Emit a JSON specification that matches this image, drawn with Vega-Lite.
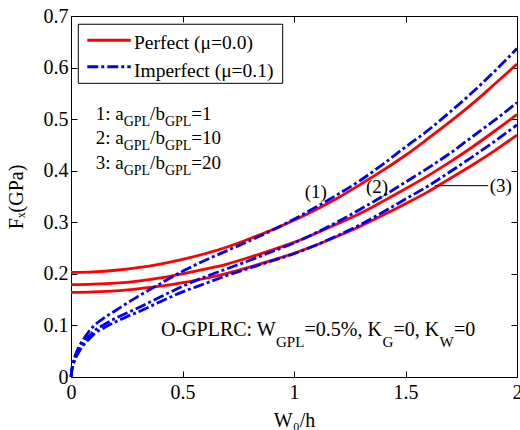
{
  "$schema": "https://vega.github.io/schema/vega-lite/v6.json",
  "width": 446,
  "height": 361,
  "autosize": {"type": "none"},
  "padding": {"left": 71, "top": 16, "right": 3, "bottom": 53},
  "config": {
    "font": "Liberation Serif",
    "view": {"stroke": "black", "strokeWidth": 1},
    "axis": {
      "labelFont": "Liberation Serif", "labelFontSize": 20, "labelColor": "black", "labelFlush": false,
      "titleFont": "Liberation Serif", "titleFontSize": 20, "titleFontWeight": "normal", "titleColor": "black",
      "tickColor": "black", "tickWidth": 1, "domain": false, "grid": false
    },
    "text": {"font": "Liberation Serif", "color": "black"}
  },
  "datasets": {
    "curves": [
      {"x":0,"y":0.203,"c":1,"k":"p"},{"x":0.1,"y":0.204,"c":1,"k":"p"},{"x":0.2,"y":0.207,"c":1,"k":"p"},{"x":0.3,"y":0.212,"c":1,"k":"p"},{"x":0.4,"y":0.219,"c":1,"k":"p"},{"x":0.5,"y":0.228,"c":1,"k":"p"},{"x":0.6,"y":0.239,"c":1,"k":"p"},{"x":0.7,"y":0.252,"c":1,"k":"p"},{"x":0.8,"y":0.268,"c":1,"k":"p"},{"x":0.9,"y":0.285,"c":1,"k":"p"},{"x":1.0,"y":0.304,"c":1,"k":"p"},{"x":1.1,"y":0.325,"c":1,"k":"p"},{"x":1.2,"y":0.348,"c":1,"k":"p"},{"x":1.3,"y":0.374,"c":1,"k":"p"},{"x":1.4,"y":0.401,"c":1,"k":"p"},{"x":1.5,"y":0.43,"c":1,"k":"p"},{"x":1.6,"y":0.462,"c":1,"k":"p"},{"x":1.7,"y":0.495,"c":1,"k":"p"},{"x":1.8,"y":0.53,"c":1,"k":"p"},{"x":1.9,"y":0.568,"c":1,"k":"p"},{"x":2.0,"y":0.607,"c":1,"k":"p"},
      {"x":0,"y":0.179,"c":2,"k":"p"},{"x":0.1,"y":0.18,"c":2,"k":"p"},{"x":0.2,"y":0.182,"c":2,"k":"p"},{"x":0.3,"y":0.186,"c":2,"k":"p"},{"x":0.4,"y":0.192,"c":2,"k":"p"},{"x":0.5,"y":0.2,"c":2,"k":"p"},{"x":0.6,"y":0.209,"c":2,"k":"p"},{"x":0.7,"y":0.219,"c":2,"k":"p"},{"x":0.8,"y":0.232,"c":2,"k":"p"},{"x":0.9,"y":0.246,"c":2,"k":"p"},{"x":1.0,"y":0.261,"c":2,"k":"p"},{"x":1.1,"y":0.279,"c":2,"k":"p"},{"x":1.2,"y":0.298,"c":2,"k":"p"},{"x":1.3,"y":0.318,"c":2,"k":"p"},{"x":1.4,"y":0.341,"c":2,"k":"p"},{"x":1.5,"y":0.365,"c":2,"k":"p"},{"x":1.6,"y":0.39,"c":2,"k":"p"},{"x":1.7,"y":0.417,"c":2,"k":"p"},{"x":1.8,"y":0.446,"c":2,"k":"p"},{"x":1.9,"y":0.477,"c":2,"k":"p"},{"x":2.0,"y":0.509,"c":2,"k":"p"},
      {"x":0,"y":0.164,"c":3,"k":"p"},{"x":0.1,"y":0.165,"c":3,"k":"p"},{"x":0.2,"y":0.167,"c":3,"k":"p"},{"x":0.3,"y":0.171,"c":3,"k":"p"},{"x":0.4,"y":0.176,"c":3,"k":"p"},{"x":0.5,"y":0.183,"c":3,"k":"p"},{"x":0.6,"y":0.191,"c":3,"k":"p"},{"x":0.7,"y":0.201,"c":3,"k":"p"},{"x":0.8,"y":0.213,"c":3,"k":"p"},{"x":0.9,"y":0.226,"c":3,"k":"p"},{"x":1.0,"y":0.24,"c":3,"k":"p"},{"x":1.1,"y":0.256,"c":3,"k":"p"},{"x":1.2,"y":0.274,"c":3,"k":"p"},{"x":1.3,"y":0.293,"c":3,"k":"p"},{"x":1.4,"y":0.314,"c":3,"k":"p"},{"x":1.5,"y":0.336,"c":3,"k":"p"},{"x":1.6,"y":0.359,"c":3,"k":"p"},{"x":1.7,"y":0.385,"c":3,"k":"p"},{"x":1.8,"y":0.411,"c":3,"k":"p"},{"x":1.9,"y":0.439,"c":3,"k":"p"},{"x":2.0,"y":0.469,"c":3,"k":"p"},
      {"x":0,"y":0,"c":1,"k":"i"},{"x":0.005,"y":0.019,"c":1,"k":"i"},{"x":0.01,"y":0.029,"c":1,"k":"i"},{"x":0.02,"y":0.043,"c":1,"k":"i"},{"x":0.04,"y":0.062,"c":1,"k":"i"},{"x":0.06,"y":0.076,"c":1,"k":"i"},{"x":0.08,"y":0.088,"c":1,"k":"i"},{"x":0.1,"y":0.098,"c":1,"k":"i"},{"x":0.15,"y":0.115,"c":1,"k":"i"},{"x":0.2,"y":0.129,"c":1,"k":"i"},{"x":0.25,"y":0.143,"c":1,"k":"i"},{"x":0.3,"y":0.156,"c":1,"k":"i"},{"x":0.4,"y":0.181,"c":1,"k":"i"},{"x":0.5,"y":0.205,"c":1,"k":"i"},{"x":0.6,"y":0.226,"c":1,"k":"i"},{"x":0.7,"y":0.245,"c":1,"k":"i"},{"x":0.8,"y":0.264,"c":1,"k":"i"},{"x":0.9,"y":0.284,"c":1,"k":"i"},{"x":1.0,"y":0.306,"c":1,"k":"i"},{"x":1.1,"y":0.33,"c":1,"k":"i"},{"x":1.2,"y":0.355,"c":1,"k":"i"},{"x":1.3,"y":0.382,"c":1,"k":"i"},{"x":1.4,"y":0.413,"c":1,"k":"i"},{"x":1.5,"y":0.446,"c":1,"k":"i"},{"x":1.6,"y":0.478,"c":1,"k":"i"},{"x":1.7,"y":0.514,"c":1,"k":"i"},{"x":1.8,"y":0.552,"c":1,"k":"i"},{"x":1.9,"y":0.593,"c":1,"k":"i"},{"x":2.0,"y":0.637,"c":1,"k":"i"},
      {"x":0,"y":0,"c":2,"k":"i"},{"x":0.005,"y":0.017,"c":2,"k":"i"},{"x":0.01,"y":0.026,"c":2,"k":"i"},{"x":0.02,"y":0.039,"c":2,"k":"i"},{"x":0.04,"y":0.056,"c":2,"k":"i"},{"x":0.06,"y":0.069,"c":2,"k":"i"},{"x":0.08,"y":0.079,"c":2,"k":"i"},{"x":0.1,"y":0.088,"c":2,"k":"i"},{"x":0.15,"y":0.102,"c":2,"k":"i"},{"x":0.2,"y":0.114,"c":2,"k":"i"},{"x":0.25,"y":0.124,"c":2,"k":"i"},{"x":0.3,"y":0.134,"c":2,"k":"i"},{"x":0.4,"y":0.155,"c":2,"k":"i"},{"x":0.5,"y":0.176,"c":2,"k":"i"},{"x":0.6,"y":0.194,"c":2,"k":"i"},{"x":0.7,"y":0.21,"c":2,"k":"i"},{"x":0.8,"y":0.226,"c":2,"k":"i"},{"x":0.9,"y":0.243,"c":2,"k":"i"},{"x":1.0,"y":0.26,"c":2,"k":"i"},{"x":1.1,"y":0.28,"c":2,"k":"i"},{"x":1.2,"y":0.302,"c":2,"k":"i"},{"x":1.3,"y":0.326,"c":2,"k":"i"},{"x":1.4,"y":0.351,"c":2,"k":"i"},{"x":1.5,"y":0.378,"c":2,"k":"i"},{"x":1.6,"y":0.405,"c":2,"k":"i"},{"x":1.7,"y":0.434,"c":2,"k":"i"},{"x":1.8,"y":0.466,"c":2,"k":"i"},{"x":1.9,"y":0.498,"c":2,"k":"i"},{"x":2.0,"y":0.532,"c":2,"k":"i"},
      {"x":0,"y":0,"c":3,"k":"i"},{"x":0.005,"y":0.016,"c":3,"k":"i"},{"x":0.01,"y":0.024,"c":3,"k":"i"},{"x":0.02,"y":0.036,"c":3,"k":"i"},{"x":0.04,"y":0.052,"c":3,"k":"i"},{"x":0.06,"y":0.064,"c":3,"k":"i"},{"x":0.08,"y":0.073,"c":3,"k":"i"},{"x":0.1,"y":0.082,"c":3,"k":"i"},{"x":0.15,"y":0.096,"c":3,"k":"i"},{"x":0.2,"y":0.107,"c":3,"k":"i"},{"x":0.25,"y":0.117,"c":3,"k":"i"},{"x":0.3,"y":0.126,"c":3,"k":"i"},{"x":0.4,"y":0.146,"c":3,"k":"i"},{"x":0.5,"y":0.165,"c":3,"k":"i"},{"x":0.6,"y":0.181,"c":3,"k":"i"},{"x":0.7,"y":0.197,"c":3,"k":"i"},{"x":0.8,"y":0.211,"c":3,"k":"i"},{"x":0.9,"y":0.225,"c":3,"k":"i"},{"x":1.0,"y":0.239,"c":3,"k":"i"},{"x":1.1,"y":0.256,"c":3,"k":"i"},{"x":1.2,"y":0.275,"c":3,"k":"i"},{"x":1.3,"y":0.296,"c":3,"k":"i"},{"x":1.4,"y":0.32,"c":3,"k":"i"},{"x":1.5,"y":0.345,"c":3,"k":"i"},{"x":1.6,"y":0.37,"c":3,"k":"i"},{"x":1.7,"y":0.398,"c":3,"k":"i"},{"x":1.8,"y":0.427,"c":3,"k":"i"},{"x":1.9,"y":0.457,"c":3,"k":"i"},{"x":2.0,"y":0.489,"c":3,"k":"i"}
    ],
    "box": [{"x": 0.0327, "x2": 0.9493, "y": 0.5695, "y2": 0.684}],
    "legendLines": [
      {"x": 0.073, "x2": 0.268, "y": 0.653, "k": "p"},
      {"x": 0.073, "x2": 0.268, "y": 0.6017, "k": "i"}
    ],
    "legendText": [
      {"x": 0.2825, "y": 0.636, "t": "Perfect (μ=0.0)"},
      {"x": 0.2825, "y": 0.5812, "t": "Imperfect (μ=0.1)"}
    ],
    "ratioMain": [
      {"x": 0.1108, "y": 0.4983, "t": "1: a"}, {"x": 0.3548, "y": 0.4983, "t": "/b"}, {"x": 0.5397, "y": 0.4983, "t": "=1"},
      {"x": 0.1108, "y": 0.4512, "t": "2: a"}, {"x": 0.3548, "y": 0.4512, "t": "/b"}, {"x": 0.5397, "y": 0.4512, "t": "=10"},
      {"x": 0.1108, "y": 0.4033, "t": "3: a"}, {"x": 0.3548, "y": 0.4033, "t": "/b"}, {"x": 0.5397, "y": 0.4033, "t": "=20"}
    ],
    "ratioSub": [
      {"x": 0.2362, "y": 0.4871, "t": "GPL"}, {"x": 0.4211, "y": 0.4871, "t": "GPL"},
      {"x": 0.2362, "y": 0.4398, "t": "GPL"}, {"x": 0.4211, "y": 0.4398, "t": "GPL"},
      {"x": 0.2362, "y": 0.3917, "t": "GPL"}, {"x": 0.4211, "y": 0.3917, "t": "GPL"}
    ],
    "noteMain": [
      {"x": 0.4036, "y": 0.0801, "t": "O-GPLRC: W"},
      {"x": 1.0471, "y": 0.0801, "t": "=0.5%, K"},
      {"x": 1.4462, "y": 0.0801, "t": "=0, K"},
      {"x": 1.7175, "y": 0.0801, "t": "=0"}
    ],
    "noteSub": [
      {"x": 0.9193, "y": 0.0588, "t": "GPL"},
      {"x": 1.3969, "y": 0.0588, "t": "G"},
      {"x": 1.6525, "y": 0.0588, "t": "W"}
    ],
    "curveLabels": [
      {"x": 1.098, "y": 0.3465, "t": "(1)"},
      {"x": 1.372, "y": 0.357, "t": "(2)"},
      {"x": 1.927, "y": 0.359, "t": "(3)"}
    ],
    "pointer": [{"x": 1.632, "x2": 1.871, "y": 0.371}]
  },
  "layer": [
    {
      "data": {"name": "curves"},
      "transform": [{"filter": "datum.k === 'p'"}],
      "mark": {"type": "line", "color": "#ff0000", "strokeWidth": 2.8, "interpolate": "monotone"},
      "encoding": {
        "x": {"field": "x", "type": "quantitative", "scale": {"domain": [0, 2], "nice": false},
          "axis": {"orient": "bottom", "values": [0, 0.5, 1, 1.5, 2], "format": "~g", "tickSize": -6, "labelPadding": 11,
            "title": "W₀/h", "titleX": 223, "titleY": 49, "titleBaseline": "alphabetic"}},
        "y": {"field": "y", "type": "quantitative", "scale": {"domain": [0, 0.7], "nice": false},
          "axis": {"orient": "left", "values": [0, 0.1, 0.2, 0.3, 0.4, 0.5, 0.6, 0.7], "format": "~g", "tickSize": -6, "labelPadding": 9,
            "title": "Fₓ(GPa)", "titleX": -49, "titleY": 180.5, "titleAngle": -90, "titleBaseline": "alphabetic"}},
        "detail": {"field": "c"}
      }
    },
    {
      "data": {"name": "curves"},
      "transform": [{"filter": "datum.k === 'i'"}],
      "mark": {"type": "line", "color": "#0000ff", "strokeWidth": 2.8, "strokeDash": [11, 3, 3, 3], "interpolate": "monotone"},
      "encoding": {
        "x": {"field": "x", "type": "quantitative", "scale": {"domain": [0, 2], "nice": false}, "axis": null},
        "y": {"field": "y", "type": "quantitative", "scale": {"domain": [0, 0.7], "nice": false}, "axis": null},
        "detail": {"field": "c"}
      }
    },
    {
      "data": {"name": "box"},
      "mark": {"type": "rect", "fill": "white", "stroke": "black", "strokeWidth": 1},
      "encoding": {
        "x": {"field": "x", "type": "quantitative", "scale": {"domain": [0, 2], "nice": false},
          "axis": {"orient": "top", "values": [0, 0.5, 1, 1.5, 2], "labels": false, "tickSize": -6, "title": null}},
        "x2": {"field": "x2"},
        "y": {"field": "y", "type": "quantitative", "scale": {"domain": [0, 0.7], "nice": false},
          "axis": {"orient": "right", "values": [0, 0.1, 0.2, 0.3, 0.4, 0.5, 0.6, 0.7], "labels": false, "tickSize": -6, "title": null}},
        "y2": {"field": "y2"}
      }
    },
    {
      "data": {"name": "legendLines"},
      "transform": [{"filter": "datum.k === 'p'"}],
      "mark": {"type": "rule", "color": "#ff0000", "strokeWidth": 3},
      "encoding": {
        "x": {"field": "x", "type": "quantitative", "scale": {"domain": [0, 2], "nice": false}, "axis": null},
        "x2": {"field": "x2"},
        "y": {"field": "y", "type": "quantitative", "scale": {"domain": [0, 0.7], "nice": false}, "axis": null}
      }
    },
    {
      "data": {"name": "legendLines"},
      "transform": [{"filter": "datum.k === 'i'"}],
      "mark": {"type": "rule", "color": "#0000ff", "strokeWidth": 3, "strokeDash": [11, 3, 3, 3]},
      "encoding": {
        "x": {"field": "x", "type": "quantitative", "scale": {"domain": [0, 2], "nice": false}, "axis": null},
        "x2": {"field": "x2"},
        "y": {"field": "y", "type": "quantitative", "scale": {"domain": [0, 0.7], "nice": false}, "axis": null}
      }
    },
    {
      "data": {"name": "legendText"},
      "mark": {"type": "text", "align": "left", "baseline": "alphabetic", "fontSize": 19.5},
      "encoding": {
        "x": {"field": "x", "type": "quantitative", "scale": {"domain": [0, 2], "nice": false}, "axis": null},
        "y": {"field": "y", "type": "quantitative", "scale": {"domain": [0, 0.7], "nice": false}, "axis": null},
        "text": {"field": "t"}
      }
    },
    {
      "data": {"name": "ratioMain"},
      "mark": {"type": "text", "align": "left", "baseline": "alphabetic", "fontSize": 19},
      "encoding": {
        "x": {"field": "x", "type": "quantitative", "scale": {"domain": [0, 2], "nice": false}, "axis": null},
        "y": {"field": "y", "type": "quantitative", "scale": {"domain": [0, 0.7], "nice": false}, "axis": null},
        "text": {"field": "t"}
      }
    },
    {
      "data": {"name": "ratioSub"},
      "mark": {"type": "text", "align": "left", "baseline": "alphabetic", "fontSize": 14},
      "encoding": {
        "x": {"field": "x", "type": "quantitative", "scale": {"domain": [0, 2], "nice": false}, "axis": null},
        "y": {"field": "y", "type": "quantitative", "scale": {"domain": [0, 0.7], "nice": false}, "axis": null},
        "text": {"field": "t"}
      }
    },
    {
      "data": {"name": "noteMain"},
      "mark": {"type": "text", "align": "left", "baseline": "alphabetic", "fontSize": 20},
      "encoding": {
        "x": {"field": "x", "type": "quantitative", "scale": {"domain": [0, 2], "nice": false}, "axis": null},
        "y": {"field": "y", "type": "quantitative", "scale": {"domain": [0, 0.7], "nice": false}, "axis": null},
        "text": {"field": "t"}
      }
    },
    {
      "data": {"name": "noteSub"},
      "mark": {"type": "text", "align": "left", "baseline": "alphabetic", "fontSize": 15},
      "encoding": {
        "x": {"field": "x", "type": "quantitative", "scale": {"domain": [0, 2], "nice": false}, "axis": null},
        "y": {"field": "y", "type": "quantitative", "scale": {"domain": [0, 0.7], "nice": false}, "axis": null},
        "text": {"field": "t"}
      }
    },
    {
      "data": {"name": "curveLabels"},
      "mark": {"type": "text", "align": "center", "baseline": "alphabetic", "fontSize": 19},
      "encoding": {
        "x": {"field": "x", "type": "quantitative", "scale": {"domain": [0, 2], "nice": false}, "axis": null},
        "y": {"field": "y", "type": "quantitative", "scale": {"domain": [0, 0.7], "nice": false}, "axis": null},
        "text": {"field": "t"}
      }
    },
    {
      "data": {"name": "pointer"},
      "mark": {"type": "rule", "color": "black", "strokeWidth": 1},
      "encoding": {
        "x": {"field": "x", "type": "quantitative", "scale": {"domain": [0, 2], "nice": false}, "axis": null},
        "x2": {"field": "x2"},
        "y": {"field": "y", "type": "quantitative", "scale": {"domain": [0, 0.7], "nice": false}, "axis": null}
      }
    }
  ],
  "resolve": {"axis": {"x": "independent", "y": "independent"}}
}
